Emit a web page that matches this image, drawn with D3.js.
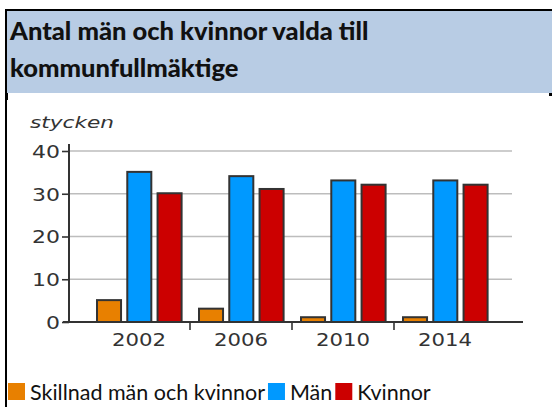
<!DOCTYPE html>
<html><head><meta charset="utf-8">
<script src="https://cdn.jsdelivr.net/npm/d3@7"></script>
<style>body{margin:0;background:#fff}svg{display:block}</style>
</head><body>
<svg id="c" width="552" height="407"></svg>
<script>
const years = ["2002", "2006", "2010", "2014"];
const seriesNames = ["Skillnad män och kvinnor", "Män", "Kvinnor"];
const skillnad = [5, 3, 1, 1];
const man = [35, 34, 33, 33];
const kvinnor = [30, 31, 32, 32];
const yTicks = [0, 10, 20, 30, 40];
const titleLines = ["Antal män och kvinnor valda till", "kommunfullmäktige"];
const unitLabel = "stycken";
const colors = ["#e88000", "#0099ff", "#cc0000"];

const svg = d3.select("#c");
const values = [skillnad, man, kvinnor];

// frame + title panel
svg.append("rect").attr("x", 7).attr("y", 11).attr("width", 545).attr("height", 82).attr("fill", "#b8cce4");
svg.append("rect").attr("x", 5).attr("y", 9).attr("width", 547).attr("height", 2).attr("fill", "#000");
svg.append("rect").attr("x", 5).attr("y", 9).attr("width", 2).attr("height", 398).attr("fill", "#000");
svg.append("rect").attr("x", 5).attr("y", 93).attr("width", 3).attr("height", 7).attr("fill", "#000");
svg.append("rect").attr("x", 549).attr("y", 93).attr("width", 3).attr("height", 3).attr("fill", "#000");

const title = svg.append("g");
titleLines.forEach((t, i) => {
  title.append("text").attr("x", 10).attr("y", 40 + i * 37)
    .attr("font-family", "Lato, 'Open Sans', sans-serif").attr("font-weight", "900")
    .attr("font-size", 25.5).attr("fill", "#111").text(t);
});

// scales
const y = d3.scaleLinear().domain([0, 40]).range([322, 151]);
const x0 = d3.scaleBand().domain(years).range([88, 496]);
const x1 = d3.scaleBand().domain(d3.range(3)).range([8, 94.6]).paddingInner(0.14);

const plot = svg.append("g");
// gridlines
plot.selectAll("line.grid").data(yTicks.filter(d => d > 0)).join("line")
  .attr("x1", 69).attr("x2", 512).attr("y1", d => y(d)).attr("y2", d => y(d))
  .attr("stroke", "#bdbdbd").attr("stroke-width", 1.6);

// bars
years.forEach((yr, i) => {
  const g = plot.append("g").attr("transform", `translate(${x0(yr)},0)`);
  values.forEach((arr, s) => {
    const v = arr[i];
    g.append("rect")
      .attr("x", x1(s) + 1).attr("width", x1.bandwidth() - 2)
      .attr("y", y(v) - 0.5).attr("height", y(0) - y(v) + 0.5)
      .attr("fill", colors[s]).attr("stroke", "#333").attr("stroke-width", 2);
  });
});

// y axis
const yAxis = d3.axisLeft(y).tickValues(yTicks).tickSize(7).tickPadding(3);
const ya = svg.append("g").attr("transform", "translate(69,0)").call(yAxis);
ya.select(".domain").attr("d", "M0,144V322").attr("stroke", "#333").attr("stroke-width", 2);
ya.selectAll(".tick line").attr("stroke", "#333").attr("stroke-width", 1.6);
ya.selectAll(".tick text").attr("font-family", "'DejaVu Sans', Verdana, sans-serif")
  .attr("font-size", 18).attr("fill", "#333").attr("dy", "0.36em")
  .attr("x", null)
  .attr("transform", "translate(-9,0) scale(1.22,1)");

// x axis
const xAxis = d3.axisBottom(x0).tickSize(0).tickPadding(10);
const xa = svg.append("g").attr("transform", "translate(0,322)").call(xAxis);
xa.select(".domain").attr("d", "M63,0H523").attr("stroke", "#333").attr("stroke-width", 2);
xa.selectAll(".tick text").attr("font-family", "'DejaVu Sans', Verdana, sans-serif")
  .attr("font-size", 18).attr("fill", "#333").attr("y", 24).attr("dy", null)
  .attr("transform", "scale(1.18,1)");
// category boundary ticks
xa.selectAll("line.sep").data(years.slice(1)).join("line")
  .attr("x1", d => x0(d)).attr("x2", d => x0(d)).attr("y1", 0).attr("y2", 8)
  .attr("stroke", "#333").attr("stroke-width", 1.6);

// unit label
svg.append("text").attr("x", 30).attr("y", 128)
  .attr("font-family", "'DejaVu Sans', Verdana, sans-serif").attr("font-style", "italic")
  .attr("font-size", 16).attr("fill", "#333")
  .attr("textLength", 84).attr("lengthAdjust", "spacingAndGlyphs").text(unitLabel);

// legend
const leg = svg.append("g");
let lx = 8;
seriesNames.forEach((n, i) => {
  leg.append("rect").attr("x", lx).attr("y", 383).attr("width", 17).attr("height", 17).attr("fill", colors[i]);
  const t = leg.append("text").attr("x", lx + 22).attr("y", 400)
    .attr("font-family", "Lato, 'Open Sans', sans-serif").attr("font-size", 21.5)
    .attr("fill", "#111").text(n);
  lx = lx + 22 + t.node().getComputedTextLength() + 3;
});
</script>
</body></html>
